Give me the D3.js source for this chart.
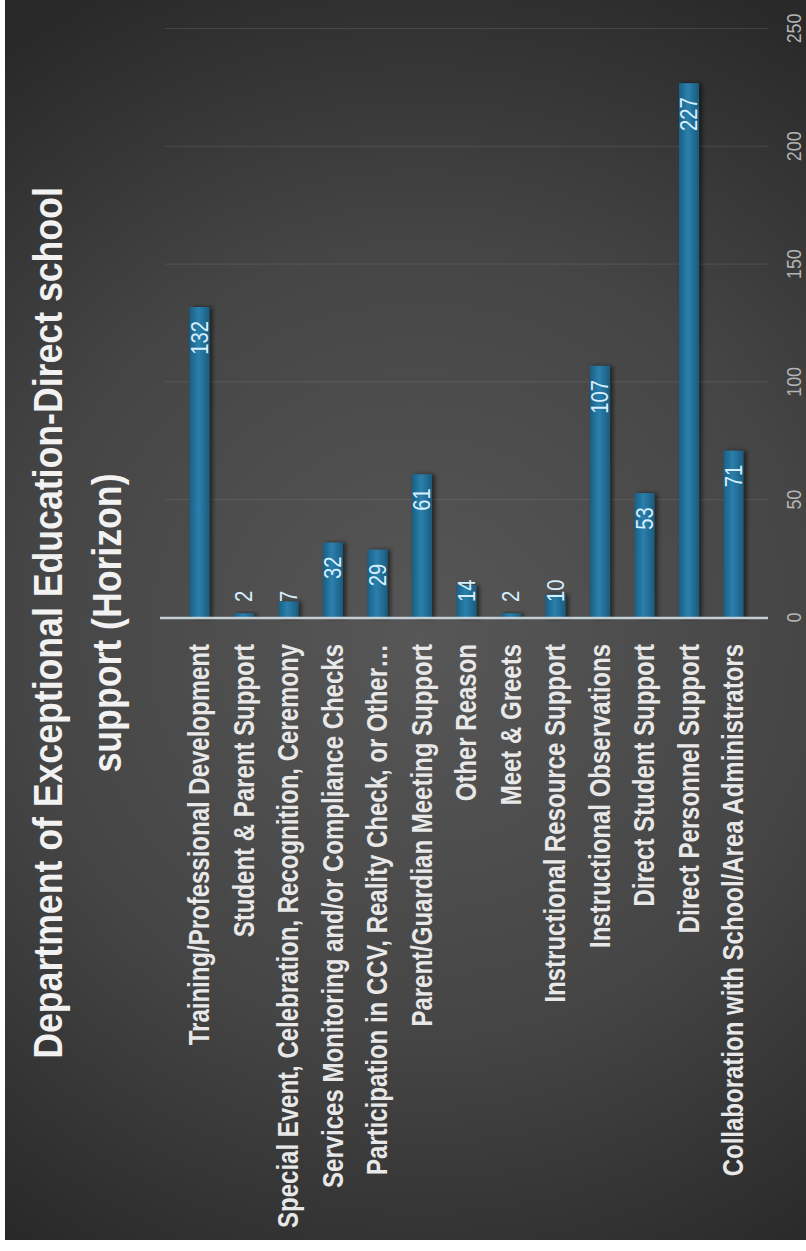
<!DOCTYPE html>
<html>
<head>
<meta charset="utf-8">
<script src="https://cdn.jsdelivr.net/npm/d3@7"></script>
<style>
  body { margin: 0; background: #fff; }
  svg { display: block; }
</style>
</head>
<body>
<script>
// chart data
var categories = [
    "Training/Professional Development",
    "Student & Parent Support",
    "Special Event, Celebration, Recognition, Ceremony",
    "Services Monitoring and/or Compliance Checks",
    "Participation in CCV, Reality Check, or Other\u2026",
    "Parent/Guardian Meeting Support",
    "Other Reason",
    "Meet & Greets",
    "Instructional Resource Support",
    "Instructional Observations",
    "Direct Student Support",
    "Direct Personnel Support",
    "Collaboration with School/Area Administrators"
];
var values = [132, 2, 7, 32, 29, 61, 14, 2, 10, 107, 53, 227, 71];
var tickValues = [0, 50, 100, 150, 200, 250];
var titleLines = ["Department of Exceptional Education-Direct school", "support (Horizon)"];

var w = 806, h = 1251;
var frameW = 1240; // chart is drawn sideways, this is its long side
var font = "'Liberation Sans', Arial, sans-serif";

var svg = d3.select("body").append("svg")
    .attr("width", w)
    .attr("height", h);

var defs = svg.append("defs");

var bg = defs.append("radialGradient")
    .attr("id", "bg")
    .attr("gradientUnits", "userSpaceOnUse")
    .attr("cx", 420).attr("cy", 640).attr("r", 720);
bg.append("stop").attr("offset", "0%").attr("stop-color", "#575757");
bg.append("stop").attr("offset", "55%").attr("stop-color", "#454545");
bg.append("stop").attr("offset", "100%").attr("stop-color", "#292929");

var barGrad = defs.append("linearGradient")
    .attr("id", "barGrad")
    .attr("x1", 0).attr("y1", 0).attr("x2", 0).attr("y2", 1);
barGrad.append("stop").attr("offset", "0%").attr("stop-color", "#1a5f84");
barGrad.append("stop").attr("offset", "45%").attr("stop-color", "#2b80ad");
barGrad.append("stop").attr("offset", "100%").attr("stop-color", "#1a5b7e");

var shadow = defs.append("filter")
    .attr("id", "shadow")
    .attr("x", "-20%").attr("y", "-20%").attr("width", "160%").attr("height", "160%");
shadow.append("feDropShadow")
    .attr("dx", 0).attr("dy", 3)
    .attr("stdDeviation", 2)
    .attr("flood-color", "#000")
    .attr("flood-opacity", 0.55);

// dark panel
svg.append("rect")
    .attr("x", 5).attr("y", 0)
    .attr("width", w - 5).attr("height", frameW)
    .style("fill", "url(#bg)");

// everything else is rotated a quarter turn
var g = svg.append("g")
    .attr("transform", "translate(0," + frameW + ") rotate(-90)");

var x = d3.scaleLinear()
    .domain([0, 250])
    .range([622, 1211]);

var y = d3.scaleBand()
    .domain(categories)
    .range([165, 768])
    .padding(0.55);

// gridlines + tick labels
var xAxis = d3.axisBottom(x)
    .tickValues(tickValues)
    .tickSize(-(768 - 165))
    .tickPadding(18);

var axisG = g.append("g")
    .attr("class", "x axis")
    .attr("transform", "translate(0,768)")
    .call(xAxis);
axisG.select(".domain").remove();
axisG.selectAll(".tick line")
    .style("stroke", "#ffffff")
    .style("stroke-opacity", 0.1);
axisG.selectAll(".tick text")
    .attr("transform", "scale(0.85,1)")
    .style("fill", "#b4b4b4")
    .style("font-family", font)
    .style("font-size", "21px");

// category labels (condensed)
var yAxis = d3.axisLeft(y)
    .tickSize(0)
    .tickPadding(0);
var catG = g.append("g")
    .attr("class", "y axis")
    .attr("transform", "translate(" + x(0) + ",0)")
    .call(yAxis);
catG.select(".domain").remove();
catG.selectAll(".tick text")
    .attr("x", 0)
    .attr("transform", "translate(-26,0) scale(0.8,1)")
    .style("fill", "#e8e8e8")
    .style("font-family", font)
    .style("font-weight", "bold")
    .style("font-size", "30px");

// bars
var data = categories.map(function(c, i){
    return { name: c, value: values[i] };
});

g.selectAll(".bar")
    .data(data)
    .enter()
    .append("rect")
    .attr("class", "bar")
    .attr("x", x(0))
    .attr("y", function(d){ return y(d.name); })
    .attr("width", function(d){ return x(d.value) - x(0); })
    .attr("height", y.bandwidth())
    .style("fill", "url(#barGrad)")
    .attr("filter", "url(#shadow)");

// baseline
g.append("line")
    .attr("x1", x(0)).attr("x2", x(0))
    .attr("y1", 160).attr("y2", 768)
    .style("stroke", "#c4d0d6")
    .style("stroke-width", 2.5);

// value labels
function inside(d){ return (x(d.value) - x(0)) > 45; }

g.selectAll(".val")
    .data(data)
    .enter()
    .append("text")
    .attr("class", "val")
    .attr("transform", function(d){
        var px = inside(d) ? x(d.value) - 14 : x(0) + 16;
        var py = y(d.name) + y.bandwidth() / 2;
        return "translate(" + px + "," + py + ") scale(0.88,1)";
    })
    .attr("dy", "0.36em")
    .attr("text-anchor", function(d){ return inside(d) ? "end" : "start"; })
    .style("fill", "#d6efff")
    .style("font-family", font)
    .style("font-size", "23px")
    .text(function(d){ return d.value; });

// title
g.selectAll(".title")
    .data(titleLines)
    .enter()
    .append("text")
    .attr("class", "title")
    .attr("text-anchor", "middle")
    .attr("transform", function(d, i){
        return "translate(617," + (62 + i * 59) + ") scale(0.87,1)";
    })
    .style("fill", "#f2f2f2")
    .style("font-family", font)
    .style("font-weight", "bold")
    .style("font-size", "41px")
    .text(function(d){ return d; });
</script>
</body>
</html>
